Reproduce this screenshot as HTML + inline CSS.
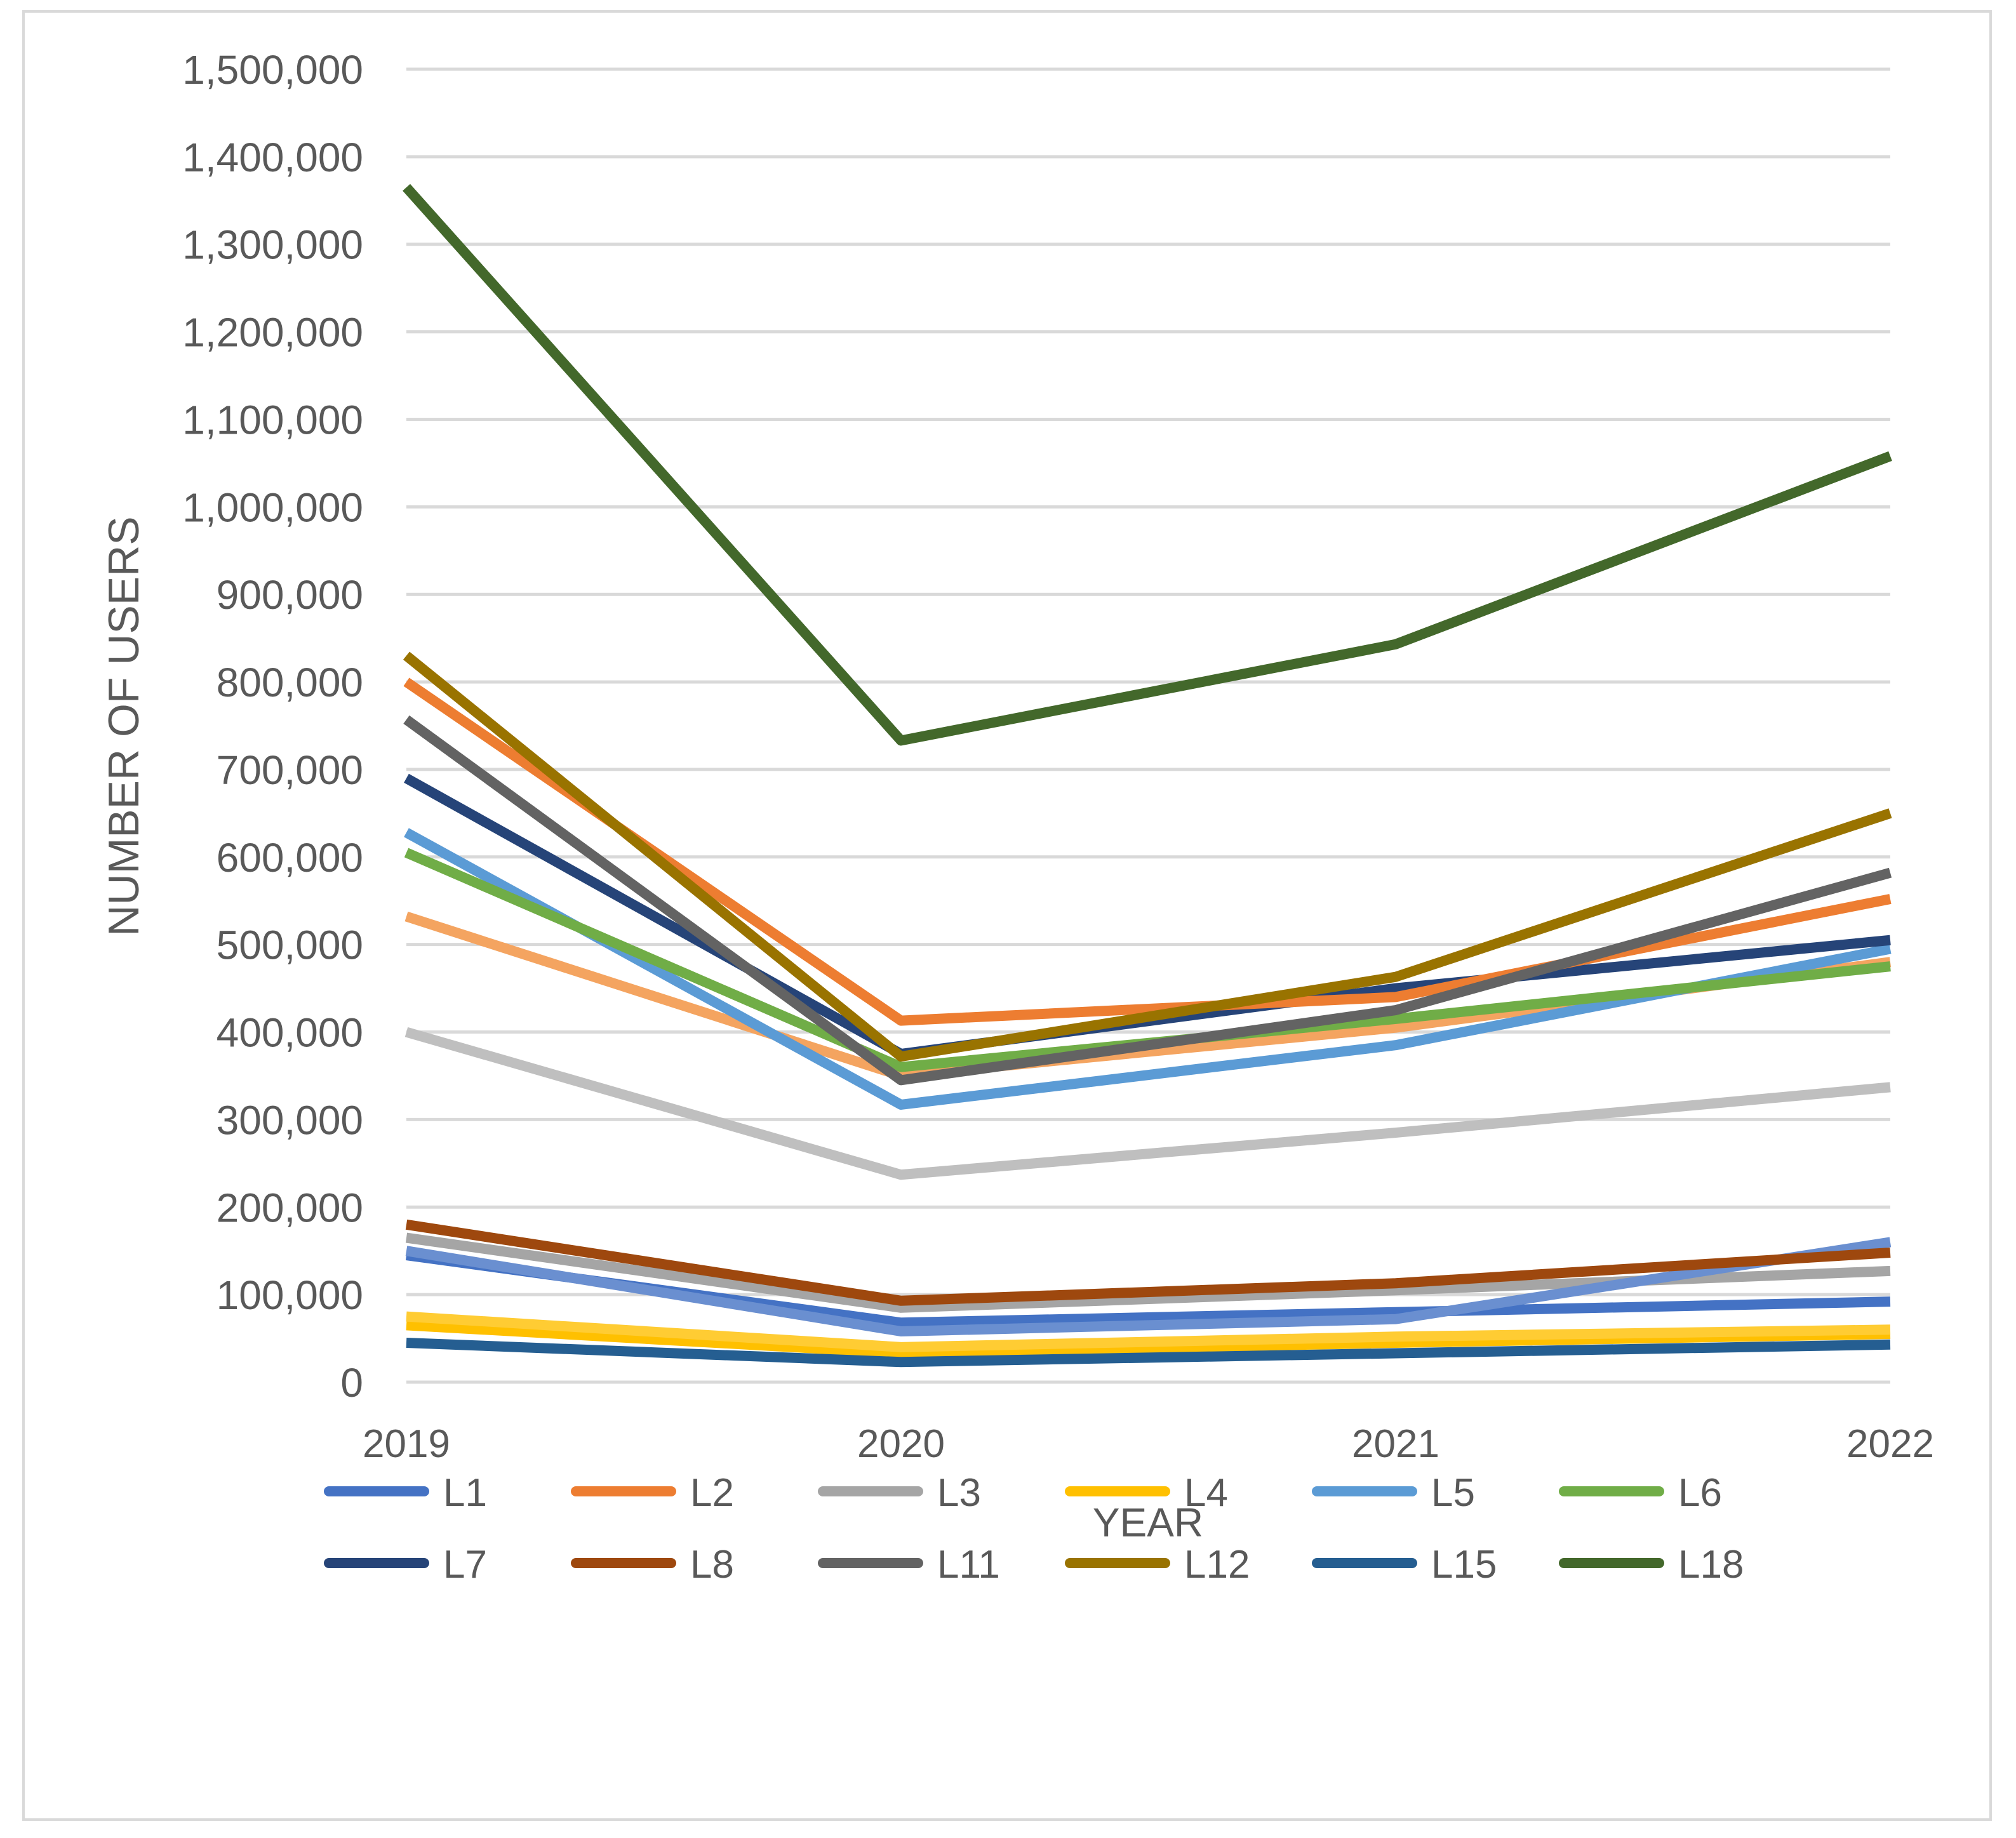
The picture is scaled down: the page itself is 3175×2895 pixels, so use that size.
<!DOCTYPE html>
<html><head><meta charset="utf-8"><style>
html,body{margin:0;padding:0;background:#fff;}
svg{display:block;font-family:"Liberation Sans",sans-serif;}
</style></head><body>
<svg id="chart" width="3175" height="2895" viewBox="0 0 3175 2895" xmlns="http://www.w3.org/2000/svg">
<rect x="37" y="18" width="3098" height="2848" fill="#fff" stroke="#d9d9d9" stroke-width="4"/>
<g id="grid"></g><g id="series"></g><g id="labels"></g><g id="legend"></g>
<text transform="translate(218,1144) rotate(-90)" text-anchor="middle" font-size="68" fill="#595959">NUMBER OF USERS</text>
<text x="1808" y="2420" text-anchor="middle" font-size="64" fill="#595959">YEAR</text>
</svg>
<script>
const categories = ["2019","2020","2021","2022"];
const yTicks = [0,100000,200000,300000,400000,500000,600000,700000,800000,900000,1000000,1100000,1200000,1300000,1400000,1500000];
const seriesNames = ["L3b","Lob","L1","Lbx","L4","L4b","L15","L8","L3","L5","L6","L7","L2","L11","L12","L18"];
const seriesColors = ["#a5a5a5","#f4a460","#4472c4","#6a8fd0","#ffc000","#ffcc33","#255e91","#9e480e","#bfbfbf","#5b9bd5","#70ad47","#264478","#ed7d31","#636363","#997300","#43682b"];
const vL3b = [165000,85000,105000,127000];
const vLob = [532000,350000,405000,480000];
const vL1 = [145000,68000,80000,92000];
const vLbx = [150000,58000,72000,160000];
const vL4 = [65000,33000,45000,55000];
const vL4b = [75000,40000,52000,60000];
const vL15 = [45000,23000,33000,43000];
const vL8 = [180000,93000,113000,148000];
const vL3 = [400000,237000,285000,337000];
const vL5 = [628000,317000,385000,495000];
const vL6 = [605000,360000,415000,475000];
const vL7 = [690000,375000,450000,505000];
const vL2 = [800000,413000,440000,552000];
const vL11 = [757000,345000,425000,582000];
const vL12 = [830000,372000,463000,650000];
const vL18 = [1365000,733000,843000,1058000];
const seriesValues = [vL3b,vLob,vL1,vLbx,vL4,vL4b,vL15,vL8,vL3,vL5,vL6,vL7,vL2,vL11,vL12,vL18];
const legendNames = ["L1","L2","L3","L4","L5","L6","L7","L8","L11","L12","L15","L18"];
const legendColors = ["#4472c4","#ed7d31","#a5a5a5","#ffc000","#5b9bd5","#70ad47","#264478","#9e480e","#636363","#997300","#255e91","#43682b"];

const NS="http://www.w3.org/2000/svg";
const X0=640,X1=2977,Y0=2177,Y1=109,YMAX=1500000;
const xs=i=>X0+(X1-X0)*i/(categories.length-1);
const ys=v=>Y0-(Y0-Y1)*v/YMAX;
function mk(t,a,p){const e=document.createElementNS(NS,t);for(const k in a)e.setAttribute(k,a[k]);p.appendChild(e);return e;}
const grid=document.getElementById('grid'),ser=document.getElementById('series'),lab=document.getElementById('labels'),leg=document.getElementById('legend');
yTicks.forEach(v=>{
  const l=mk('line',{x1:X0,x2:X1,y1:ys(v),y2:ys(v),stroke:'#d9d9d9','stroke-width':5},grid);
  
  
  const t=mk('text',{x:572,y:ys(v)+23,'text-anchor':'end','font-size':64,fill:'#595959'},lab);
  t.textContent=v.toLocaleString('en-US');
  
  
});
categories.forEach((c,i)=>{
  const t=mk('text',{x:xs(i),y:2295,'text-anchor':'middle','font-size':62,fill:'#595959'},lab);
  t.textContent=c;
  
  
});
seriesValues.forEach((vals,s)=>{
  const pts=vals.map((v,i)=>xs(i)+','+ys(v)).join(' ');
  const p=mk('polyline',{points:pts,fill:'none',stroke:seriesColors[s],'stroke-width':16,'stroke-linejoin':'round'},ser);
  
  
});
legendNames.forEach((n,i)=>{
  const col=i%6,row=Math.floor(i/6);
  const x=518+col*389,y=row?2462:2349;
  const g=mk('g',{},leg);
  
  
  mk('line',{x1:x,x2:x+150,y1:y,y2:y,stroke:legendColors[i],'stroke-width':16,'stroke-linecap':'round'},g);
  const t=mk('text',{x:x+180,y:y+23,'font-size':62,fill:'#595959'},g);
  t.textContent=n;
});
</script>
</body></html>
